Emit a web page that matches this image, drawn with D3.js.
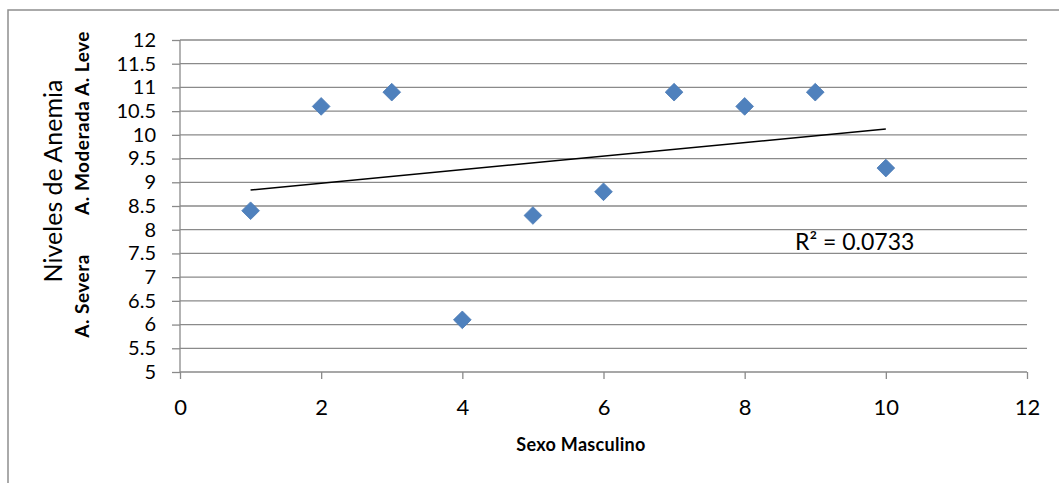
<!DOCTYPE html>
<html>
<head>
<meta charset="utf-8">
<script src="https://cdn.jsdelivr.net/npm/d3@7"></script>
<style>
  html, body { margin: 0; padding: 0; background: #fff; }
  svg { display: block; font-family: Lato, "Open Sans", sans-serif; }
</style>
</head>
<body>
<svg id="chart" width="1059" height="483"></svg>
<script>
// Hemoglobin level per male subject
const subjects = [1, 2, 3, 4, 5, 6, 7, 8, 9, 10];
const hemoglobin = [8.4, 10.6, 10.9, 6.1, 8.3, 8.8, 10.9, 10.6, 10.9, 9.3];
const xTicks = [0, 2, 4, 6, 8, 10, 12];
const yTicks = [5, 5.5, 6, 6.5, 7, 7.5, 8, 8.5, 9, 9.5, 10, 10.5, 11, 11.5, 12];
const xTitle = "Sexo Masculino";
const yTitle = "Niveles de Anemia";
const bandUpper = "A. Moderada A. Leve";
const bandLower = "A. Severa";

const svg = d3.select("#chart");
const W = 1059, H = 483;
const plot = { left: 180, right: 1027, top: 40, bottom: 372 };

// chart frame
svg.append("rect")
  .attr("x", 8).attr("y", 10)
  .attr("width", W + 20).attr("height", H + 20)
  .attr("fill", "#fff").attr("stroke", "#8f8f8f").attr("stroke-width", 1.5);

const x = d3.scaleLinear().domain([0, 12]).range([plot.left, plot.right]);
const y = d3.scaleLinear().domain([5, 12]).range([plot.bottom, plot.top]);

// horizontal gridlines
svg.append("g").selectAll("line").data(yTicks.filter(v => v > 5)).join("line")
  .attr("x1", plot.left).attr("x2", plot.right)
  .attr("y1", d => y(d)).attr("y2", d => y(d))
  .attr("stroke", "#8a8a8a").attr("stroke-width", 1.3);

// y axis
const yAxis = svg.append("g")
  .attr("transform", `translate(${plot.left},0)`)
  .call(d3.axisLeft(y).tickValues(yTicks).tickSize(8).tickPadding(16)
    .tickFormat(d => String(d)));
yAxis.select(".domain").attr("stroke", "#8a8a8a").attr("stroke-width", 1.3)
  .attr("d", `M0,${plot.top}V${plot.bottom}`);
yAxis.selectAll(".tick line").attr("stroke", "#8a8a8a").attr("stroke-width", 1.3);
yAxis.selectAll(".tick text").attr("font-size", 20).attr("fill", "#000")
  .attr("font-family", "Lato, sans-serif");

// x axis
const xAxis = svg.append("g")
  .attr("transform", `translate(0,${plot.bottom})`)
  .call(d3.axisBottom(x).tickValues(xTicks).tickSize(7).tickPadding(20)
    .tickFormat(d => String(d)));
xAxis.select(".domain").attr("stroke", "#8a8a8a").attr("stroke-width", 1.3)
  .attr("d", `M${plot.left},0H${plot.right}`);
xAxis.selectAll(".tick line").attr("stroke", "#8a8a8a").attr("stroke-width", 1.3);
xAxis.selectAll(".tick text").attr("font-size", 22).attr("fill", "#000")
  .attr("font-family", "Lato, sans-serif");

// least-squares trendline
const mx = d3.mean(subjects), my = d3.mean(hemoglobin);
let sxy = 0, sxx = 0, syy = 0;
subjects.forEach((xi, i) => {
  sxy += (xi - mx) * (hemoglobin[i] - my);
  sxx += (xi - mx) ** 2;
  syy += (hemoglobin[i] - my) ** 2;
});
const slope = sxy / sxx, intercept = my - slope * mx;
const r2 = (sxy * sxy) / (sxx * syy);
const xMin = d3.min(subjects), xMax = d3.max(subjects);
svg.append("line")
  .attr("x1", x(xMin)).attr("y1", y(intercept + slope * xMin))
  .attr("x2", x(xMax)).attr("y2", y(intercept + slope * xMax))
  .attr("stroke", "#000").attr("stroke-width", 1.5);

// markers
const diamond = d3.symbol().type(d3.symbolDiamond2).size(200);
svg.append("g").selectAll("path").data(subjects).join("path")
  .attr("d", diamond)
  .attr("transform", (d, i) => `translate(${x(d)},${y(hemoglobin[i])})`)
  .attr("fill", "#4f81bd").attr("stroke", "#4a7ab5").attr("stroke-width", 0.8);

// R² annotation
svg.append("text")
  .attr("x", 795).attr("y", 250)
  .attr("font-size", 23).attr("fill", "#000")
  .text(`R² = ${r2.toFixed(4)}`);

// axis titles
svg.append("text")
  .attr("x", 581).attr("y", 451)
  .attr("text-anchor", "middle").attr("font-size", 18).attr("font-weight", "bold")
  .attr("letter-spacing", 0.3)
  .text(xTitle);

svg.append("text")
  .attr("transform", "translate(62,181) rotate(-90)")
  .attr("text-anchor", "middle").attr("font-size", 25).attr("font-weight", 400)
  .text(yTitle);

svg.append("text")
  .attr("transform", "translate(89,123) rotate(-90)")
  .attr("text-anchor", "middle").attr("font-size", 19).attr("font-weight", "bold")
  .attr("letter-spacing", 0.5)
  .text(bandUpper);

svg.append("text")
  .attr("transform", "translate(89,296) rotate(-90)")
  .attr("text-anchor", "middle").attr("font-size", 19).attr("font-weight", "bold")
  .attr("letter-spacing", 0.5)
  .text(bandLower);
</script>
</body>
</html>
